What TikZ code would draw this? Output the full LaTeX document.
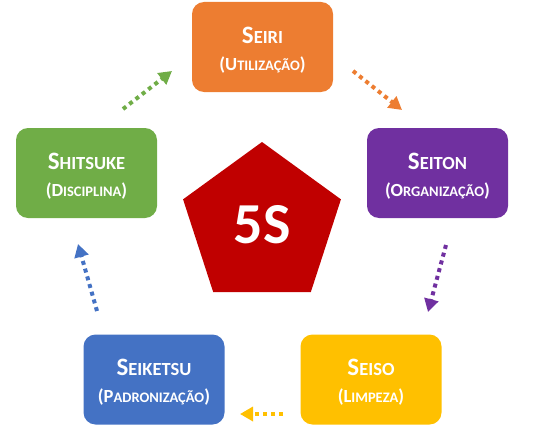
\documentclass[tikz,border=0pt]{standalone}
\usepackage{fontspec}
\setmainfont{Carlito}
\usetikzlibrary{shapes.geometric,arrows.meta}
\definecolor{cOrange}{HTML}{ED7D31}
\definecolor{cPurple}{HTML}{7030A0}
\definecolor{cGreen}{HTML}{70AD47}
\definecolor{cBlue}{HTML}{4472C4}
\definecolor{cYellow}{HTML}{FFC000}
\definecolor{cRed}{HTML}{C00000}
\newcommand\tA[2]{{\fontsize{25}{27}\selectfont #1}{\fontsize{18.5}{27}\selectfont #2}}
\newcommand\tB[2]{{\fontsize{18.5}{27}\selectfont (#1}{\fontsize{14.5}{27}\selectfont #2}{\fontsize{18.5}{27}\selectfont )}}
\tikzset{
  sbox/.style={draw=none, fill=#1, rounded corners=12pt, minimum width=141pt, minimum height=90pt,
    inner sep=0pt},
  lbl/.style={text=white, align=center, font=\bfseries\fontsize{18.5}{27}\selectfont, inner sep=0pt, yshift=-3pt},
  flow/.style={draw=#1, line width=4pt, dash pattern=on 4pt off 4pt,
    -{Triangle[length=13pt,width=14pt,fill=#1]}},
}
\begin{document}
\begin{tikzpicture}[x=1pt,y=-1pt]
\useasboundingbox (0,0) rectangle (534,433);
\node[sbox=cOrange, label={[lbl]center:{\tA{S}{EIRI}\\\tB{U}{TILIZAÇÃO}}}] (seiri) at (262.5,47) {};
\node[sbox=cPurple, label={[lbl]center:{\tA{S}{EITON}\\\tB{O}{RGANIZAÇÃO}}}] (seiton) at (437.5,173) {};
\node[sbox=cGreen, label={[lbl]center:{\tA{S}{HITSUKE}\\\tB{D}{ISCIPLINA}}}] (shitsuke) at (86.5,173) {};
\node[sbox=cBlue, label={[lbl]center:{\tA{S}{EIKETSU}\\\tB{P}{ADRONIZAÇÃO}}}] (seiketsu) at (154,379.5) {};
\node[sbox=cYellow, label={[lbl]center:{\tA{S}{EISO}\\\tB{L}{IMPEZA}}}] (seiso) at (371,379.5) {};
\node[regular polygon, regular polygon sides=5, minimum size=166pt, fill=cRed, inner sep=0pt,
  text=white, font=\bfseries\fontsize{58}{60}\selectfont] (five) at (262,225) {5S};
\coordinate (g1) at (123,109); \coordinate (g2) at (172,71);
\coordinate (o1) at (353,71); \coordinate (o2) at (402,110);
\coordinate (p1) at (446,245); \coordinate (p2) at (428,312);
\coordinate (y1) at (283,414); \coordinate (y2) at (240,414);
\coordinate (b1) at (97,311); \coordinate (b2) at (78,244);
\draw[flow=cGreen] (g1) -- (g2);
\draw[flow=cOrange] (o1) -- (o2);
\draw[flow=cPurple] (p1) -- (p2);
\draw[flow=cYellow] (y1) -- (y2);
\draw[flow=cBlue] (b1) -- (b2);
\end{tikzpicture}
\end{document}
